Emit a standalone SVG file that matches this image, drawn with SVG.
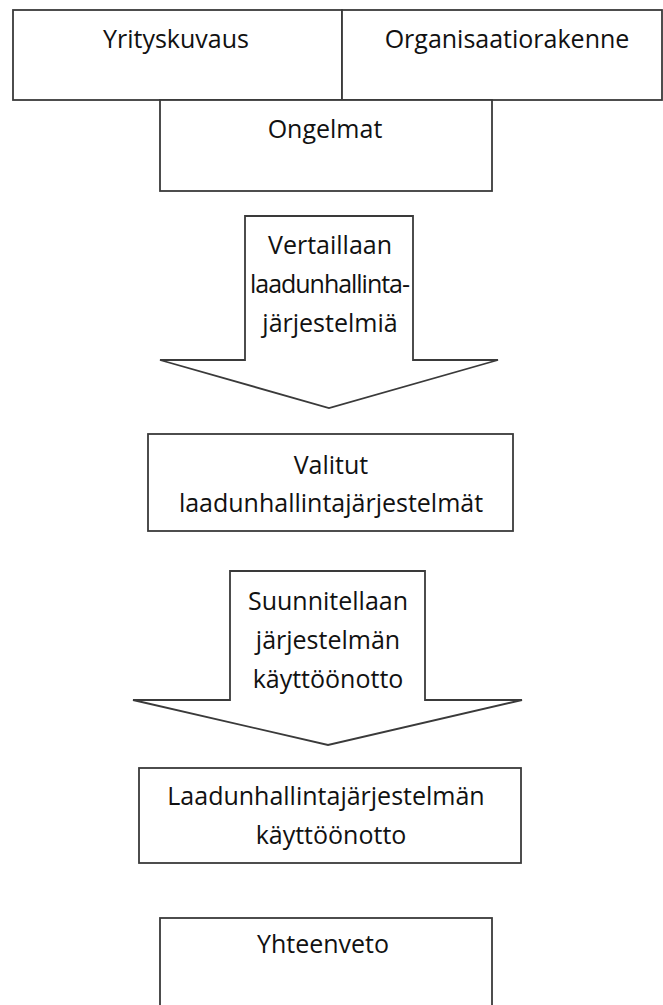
<svg xmlns="http://www.w3.org/2000/svg" width="663" height="1005" viewBox="0 0 663 1005">
  <style>
    .box { fill: #ffffff; stroke: #3a3a3a; stroke-width: 1.8; }
    .arrow { fill: #ffffff; stroke: #3a3a3a; stroke-width: 1.8; stroke-linejoin: miter; }
    .t { font-family: "Open Sans", "Liberation Sans", sans-serif; font-size: 25px; fill: #111111; text-anchor: middle; }
  </style>
  <rect width="663" height="1005" fill="#ffffff"/>
  <g id="yrityskuvaus">
    <rect class="box" x="13" y="10" width="329" height="90"/>
    <text class="t" x="176" y="48">Yrityskuvaus</text>
  </g>
  <g id="organisaatiorakenne">
    <rect class="box" x="342" y="10" width="320" height="90"/>
    <text class="t" x="507" y="48">Organisaatiorakenne</text>
  </g>
  <g id="ongelmat">
    <rect class="box" x="160" y="100" width="332" height="91"/>
    <text class="t" x="325" y="138">Ongelmat</text>
  </g>
  <g id="connectors">
    <g id="arrow1">
      <polygon class="arrow" points="245,216 413,216 413,360 498,360 329,408 160,360 245,360"/>
      <text class="t" x="330" y="254">Vertaillaan</text>
      <text class="t" x="330" y="293" textLength="160" lengthAdjust="spacing">laadunhallinta-</text>
      <text class="t" x="330" y="332">järjestelmiä</text>
    </g>
    <g id="arrow2">
      <polygon class="arrow" points="230,571 425,571 425,700 522,700 328,745 133,700 230,700"/>
      <text class="t" x="328" y="610">Suunnitellaan</text>
      <text class="t" x="328" y="649">järjestelmän</text>
      <text class="t" x="328" y="688">käyttöönotto</text>
    </g>
  </g>
  <g id="valitut">
    <rect class="box" x="148" y="434" width="365" height="97"/>
    <text class="t" x="331" y="474">Valitut</text>
    <text class="t" x="331" y="512">laadunhallintajärjestelmät</text>
  </g>
  <g id="kayttoonotto">
    <rect class="box" x="139" y="768" width="382" height="95"/>
    <text class="t" x="326" y="805">Laadunhallintajärjestelmän</text>
    <text class="t" x="331" y="844">käyttöönotto</text>
  </g>
  <g id="yhteenveto">
    <rect class="box" x="160" y="918" width="332" height="100"/>
    <text class="t" x="323" y="953">Yhteenveto</text>
  </g>
</svg>
